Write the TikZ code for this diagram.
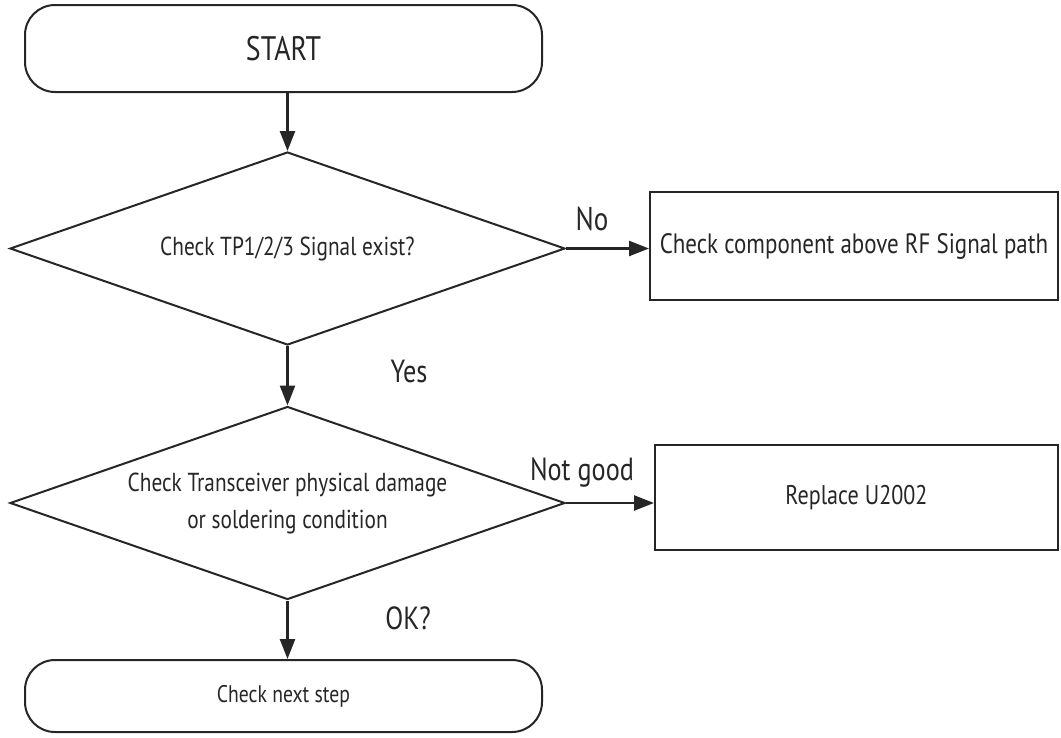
\documentclass[tikz,border=0pt]{standalone}
\usepackage{fontspec}
\setmainfont[FakeStretch=0.82]{PT Sans}
\usetikzlibrary{shapes.geometric,arrows.meta}
\begin{document}
\begin{tikzpicture}[x=1pt,y=1pt,
  every node/.style={text=black!85},
  term/.style={draw=black!85,line width=2pt,rounded corners=30pt,minimum width=517pt,inner sep=0pt},
  decision/.style={draw=black!85,diamond,shape aspect=2.876,line width=2pt,inner sep=0pt,minimum width=555pt,minimum height=193pt,align=center,font=\fontsize{26}{37}\selectfont},
  act/.style={draw=black!85,rectangle,line width=2pt,inner sep=0pt},
  flow/.style={draw=black!85,line width=2.5pt,-{Triangle[length=20pt,width=15pt]}},
  lbl/.style={anchor=base,font=\fontsize{32}{36}\selectfont}]
\useasboundingbox (0,0) rectangle (1061,-737);
\node[term,minimum height=87pt,font=\fontsize{34}{38}\selectfont] (start) at (283.5,-48.5) {START};
\node[decision] (d1) at (287.5,-248.5) {Check TP1/2/3 Signal exist?};
\node[act,minimum width=408pt,minimum height=108pt,font=\fontsize{28}{32}\selectfont] (b1) at (854,-246) {Check component above RF Signal path};
\node[decision] (d2) at (287.5,-503) {Check Transceiver physical damage\\or soldering condition};
\node[act,minimum width=403pt,minimum height=105pt,font=\fontsize{27}{32}\selectfont] (b2) at (856.5,-497.5) {Replace U2002};
\node[term,minimum height=72pt,font=\fontsize{24}{28}\selectfont] (end) at (283.5,-696) {Check next step};
\draw[flow] (start.south -| d1.north) -- (d1.north);
\draw[flow] (d1.east) -- (d1.east -| b1.west);
\draw[flow] (d1.south) -- (d2.north);
\draw[flow] (d2.east) -- (d2.east -| b2.west);
\draw[flow] (d2.south) -- (d2.south |- end.north);
\node[lbl,font=\fontsize{33}{36}\selectfont] (no) at (592,-230) {No};
\node[lbl] (yes) at (409,-382) {Yes};
\node[lbl] (ng) at (582,-480) {Not good};
\node[lbl] (ok) at (408,-629) {OK?};
\end{tikzpicture}
\end{document}
